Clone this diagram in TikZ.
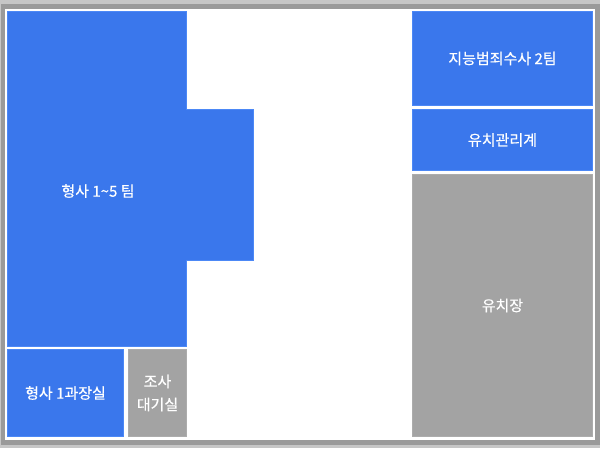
\documentclass[tikz,border=0pt]{standalone}
\usepackage{fontspec}
\newfontfamily\kr[FakeBold=0.4]{Noto Sans CJK KR}
\usetikzlibrary{fit}
\definecolor{roomblue}{HTML}{3A77EC}
\definecolor{roomedge}{HTML}{4C88F6}
\definecolor{roomgray}{HTML}{A3A3A3}
\definecolor{framegray}{HTML}{9A9A9A}
\definecolor{outergray}{HTML}{C6C6C6}
\tikzset{
  room/.style={inner sep=0pt, line width=0.8pt},
  blueroom/.style={room, fill=roomblue, draw=roomedge},
  grayroom/.style={room, fill=roomgray, draw=roomgray!90!white},
  lbl/.style={text=white, font=\kr\fontsize{15}{19}\selectfont, align=center, inner sep=0pt}
}
\begin{document}
\begin{tikzpicture}[x=1pt, y=-1pt]
\useasboundingbox (0,0) rectangle (600,448);
% frame
\fill[outergray] (0,0) rectangle (600,448);
\fill[framegray] (1,4) rectangle (600,445);
\fill[white] (5,9) rectangle (595,440);
% big L-shaped room
\filldraw[fill=roomblue, draw=roomedge, line width=0.8pt]
  (7.4,11.4) -- (186.6,11.4) -- (186.6,109.4) -- (253.6,109.4) -- (253.6,260.6)
  -- (186.6,260.6) -- (186.6,346.6) -- (7.4,346.6) -- cycle;
\node[lbl] (team15) at (98,191) {형사 1\textasciitilde5 팀};
% bottom-left rooms
\node[blueroom, fit={(7.4,349.4)(123.6,436.6)}] (chief) {};
\node[lbl] (chiefl) at (chief.center) {형사 1과장실};
\node[grayroom, fit={(128.4,349.4)(186.6,436.6)}] (wait) {};
\node[lbl] (waitl) at (wait.center) {조사\\[4pt]대기실};
% right column
\node[blueroom, fit={(412.4,11.4)(592.6,105.6)}] (team2) {};
\node[lbl] (team2l) at (team2.center) {지능범죄수사 2팀};
\node[blueroom, fit={(412.4,109.4)(592.6,170.6)}] (mgmt) {};
\node[lbl] (mgmtl) at (mgmt.center) {유치관리계};
\node[grayroom, fit={(412.4,174.4)(592.6,436.6)}] (cell) {};
\node[lbl] (celll) at (cell.center) {유치장};
\end{tikzpicture}
\end{document}
